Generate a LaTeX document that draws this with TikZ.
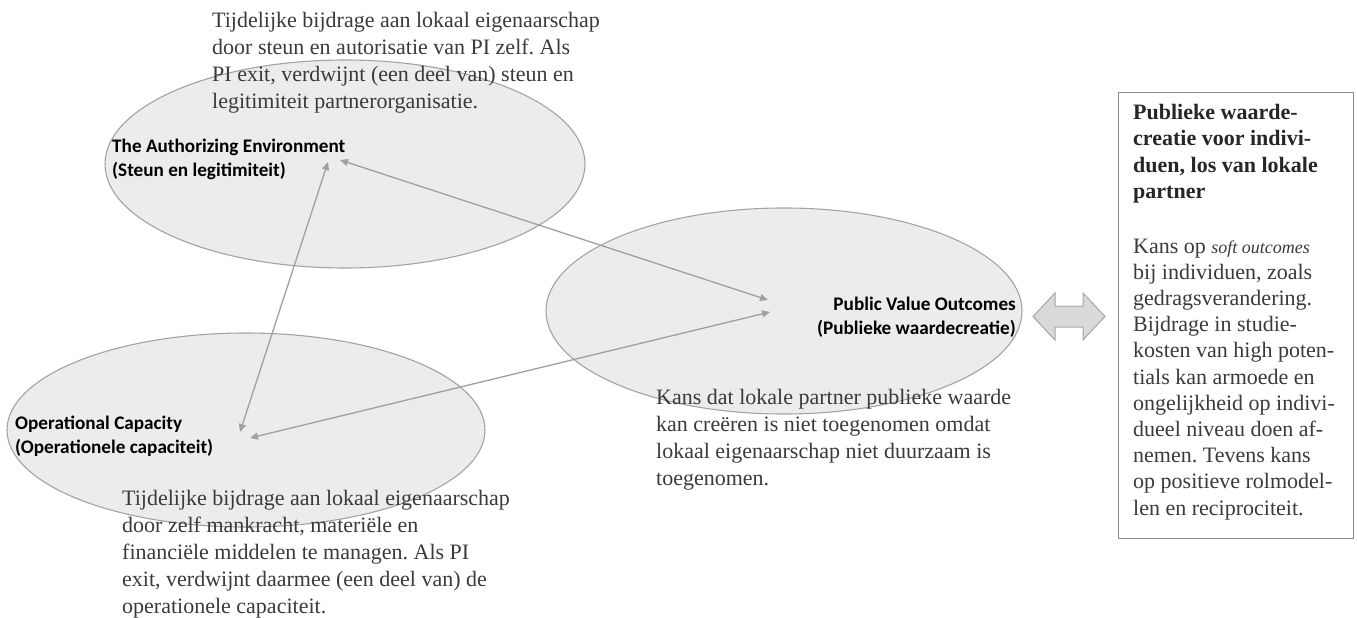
\documentclass[tikz,border=0pt]{standalone}
\usepackage{fontspec}
\setmainfont{Liberation Serif}
\newfontfamily\labelfont{Carlito}
\usetikzlibrary{shapes.geometric,arrows.meta,calc}
\frenchspacing

\definecolor{ellipsefill}{HTML}{ECECEC}
\definecolor{ellipseline}{HTML}{A3A3A3}
\definecolor{linkgray}{HTML}{A0A0A0}
\definecolor{blockfill}{HTML}{D9D9D9}
\definecolor{blockline}{HTML}{A6A6A6}
\definecolor{boxline}{HTML}{8C8C8C}
\definecolor{bodytext}{HTML}{3A3A3A}

\begin{document}
\begin{tikzpicture}[x=1pt,y=-1pt,
  zone/.style={ellipse, draw=ellipseline, fill=ellipsefill, line width=1.1pt, inner sep=0pt},
  zonelabel/.style={inner sep=0pt, align=left, text=black,
    font=\labelfont\bfseries\fontsize{19.2}{23.5}\selectfont},
  note/.style={inner sep=0pt, align=left, text=bodytext, anchor=base west,
    font=\frenchspacing\fontsize{22}{27}\selectfont},
  link/.style={draw=linkgray, line width=1.3pt,
    {Triangle[length=8pt,width=7pt]}-{Triangle[length=8pt,width=7pt]}},
  sidebox/.style={draw=boxline, line width=1.3pt, inner sep=0pt, anchor=north west}
]
\useasboundingbox (0,0) rectangle (1357,618);

% the three elements of the strategic triangle
\node[zone, minimum width=480, minimum height=208] (auth) at (345,164) {};
\node[zone, minimum width=478, minimum height=194] (oper) at (246,430) {};
\node[zone, minimum width=476, minimum height=206] (pvo)  at (784,311) {};

% arrow ends inside the ellipses
\coordinate (a1) at (328,162);
\coordinate (a2) at (340,160);
\coordinate (o1) at (240,432);
\coordinate (o2) at (250,438);
\coordinate (p1) at (768,300);
\coordinate (p2) at (770,312);

\draw[link] (a1) -- (o1);
\draw[link] (a2) -- (p1);
\draw[link] (o2) -- (p2);

% element labels (anchored at the baseline of their last line)
\node[zonelabel, anchor=base west] (authlbl) at (112,176)
  {The Authorizing Environment\\(Steun en legitimiteit)};
\node[zonelabel, anchor=base west] (operlbl) at (15,453)
  {Operational Capacity\\(Operationele capaciteit)};
\node[zonelabel, align=right, anchor=base east] (pvolbl) at (1016,334)
  {Public Value Outcomes\\(Publieke waardecreatie)};

% explanatory notes (anchored at the baseline of their last line)
\node[note] (authnote) at (212,108)
  {Tijdelijke bijdrage aan lokaal eigenaarschap\\
   door steun en autorisatie van PI zelf. Als\\
   PI exit, verdwijnt (een deel van) steun en\\
   legitimiteit partnerorganisatie.};
\node[note] (opernote) at (122,613)
  {Tijdelijke bijdrage aan lokaal eigenaarschap\\
   door zelf mankracht, materiële en\\
   financiële middelen te managen. Als PI\\
   exit, verdwijnt daarmee (een deel van) de\\
   operationele capaciteit.};
\node[note] (pvonote) at (656,485)
  {Kans dat lokale partner publieke waarde\\
   kan creëren is niet toegenomen omdat\\
   lokaal eigenaarschap niet duurzaam is\\
   toegenomen.};

% double block arrow towards the side box
\coordinate (dbl) at (1069,316.5);
\draw[draw=blockline, fill=blockfill, line width=1pt, line join=miter]
  ($(dbl)+(-36,0)$) -- ++(22,-23.5) -- ++(0,13) -- ++(28,0) -- ++(0,-13)
  -- ++(22,23.5) -- ++(-22,23.5) -- ++(0,-13) -- ++(-28,0) -- ++(0,13) -- cycle;

% side box
\node[sidebox, minimum width=235, minimum height=446] (side) at (1118,92) {};
\node[note, text=black!85, font=\frenchspacing\bfseries\fontsize{22}{26.5}\selectfont] (sidetitle) at (1133,198.5)
  {Publieke waarde-\\creatie voor indivi-\\duen, los van lokale\\partner};
\node[note, font=\frenchspacing\fontsize{22}{26.2}\selectfont] (sidebody) at (1133,515)
  {Kans op {\itshape\fontsize{18}{20}\selectfont soft outcomes}\\
   bij individuen, zoals\\
   gedragsverandering.\\
   Bijdrage in studie-\\
   kosten van high poten-\\
   tials kan armoede en\\
   ongelijkheid op indivi-\\
   dueel niveau doen af-\\
   nemen. Tevens kans\\
   op positieve rolmodel-\\
   len en reciprociteit.};
\end{tikzpicture}
\end{document}
